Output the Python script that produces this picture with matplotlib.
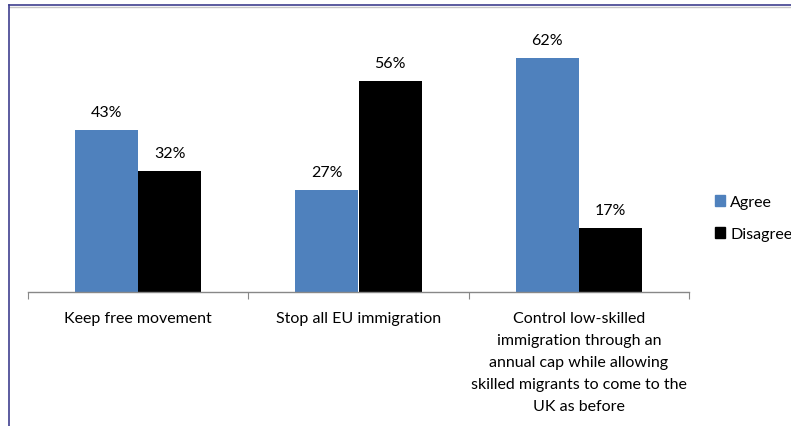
import matplotlib
matplotlib.use("Agg")
import matplotlib.pyplot as plt
import numpy as np
from matplotlib.lines import Line2D
from matplotlib.patches import Patch

plt.rcParams['font.family'] = ['Lato', 'DejaVu Sans']

categories = ["Keep free movement",
              "Stop all EU immigration",
              "Control low-skilled\nimmigration through an\nannual cap while allowing\nskilled migrants to come to the\nUK as before"]
agree = [43, 27, 62]
disagree = [32, 56, 17]
series_names = ["Agree", "Disagree"]
colors = ["#4F81BD", "#000000"]

fig = plt.figure(figsize=(7.91, 4.27), dpi=100)
ax = fig.add_axes([28 / 791, 1 - 293 / 427, 661 / 791, 264 / 427])

x = np.arange(len(categories))
w = 0.286
bars_a = ax.bar(x - w / 2, agree, w, color=colors[0], label=series_names[0])
bars_d = ax.bar(x + w / 2, disagree, w, color=colors[1], label=series_names[1])

fs = 11.5
for bars, vals in [(bars_a, agree), (bars_d, disagree)]:
    for b, v in zip(bars, vals):
        ax.annotate(f"{v}%", (b.get_x() + b.get_width() / 2, v),
                    xytext=(0, 8), textcoords="offset points",
                    ha="center", va="bottom", fontsize=fs)

ax.set_xlim(-0.5, 2.5)
ax.set_ylim(0, 70)
ax.set_yticks([])
for s in ["top", "right", "left"]:
    ax.spines[s].set_visible(False)
ax.spines["bottom"].set_color("#888888")
ax.spines["bottom"].set_linewidth(1)

# category boundary ticks
ax.set_xticks([-0.5, 0.5, 1.5, 2.5], minor=False)
ax.set_xticklabels([])
ax.tick_params(axis="x", which="major", length=5, color="#888888")
ax.set_xticks(x, minor=True)
ax.set_xticklabels(categories, minor=True, fontsize=fs, linespacing=1.72, va="top")
ax.tick_params(axis="x", which="minor", length=0, pad=14)

handles = [Patch(color=c, label=n) for c, n in zip(colors, series_names)]
fig.legend(handles=handles, loc="center left", bbox_to_anchor=(715 / 791, 1 - 219 / 427),
           frameon=False, fontsize=fs, handlelength=0.65, handleheight=0.65,
           handletextpad=0.3, labelspacing=1.1, borderaxespad=0, borderpad=0)

# outer frame (top and left edge)
fig.add_artist(Line2D([9 / 791, 1], [1 - 6 / 427] * 2, color="#3F3F8F", lw=1.2))
fig.add_artist(Line2D([9 / 791, 1], [1 - 8 / 427] * 2, color="#C8C8C8", lw=1))
fig.add_artist(Line2D([9 / 791] * 2, [0, 1 - 6 / 427], color="#3F3F8F", lw=1.2))

fig.savefig("out.png", dpi=100)
